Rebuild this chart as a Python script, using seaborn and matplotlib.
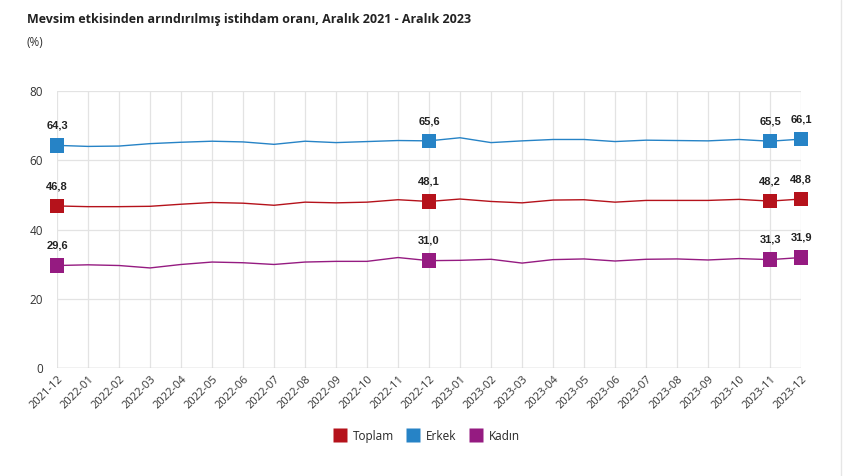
import numpy as np
import pandas as pd
import matplotlib
matplotlib.use("Agg")
import matplotlib.pyplot as plt
import seaborn as sns

# ── data ─────────────────────────────────────────────────────────────────────
months = ['2021-12', '2022-01', '2022-02', '2022-03', '2022-04', '2022-05', '2022-06',
          '2022-07', '2022-08', '2022-09', '2022-10', '2022-11', '2022-12',
          '2023-01', '2023-02', '2023-03', '2023-04', '2023-05', '2023-06',
          '2023-07', '2023-08', '2023-09', '2023-10', '2023-11', '2023-12']

toplam = [46.8, 46.6, 46.6, 46.7, 47.3, 47.8, 47.6, 47.0, 47.9, 47.7, 47.9, 48.6, 48.1,
          48.8, 48.1, 47.7, 48.5, 48.6, 47.9, 48.4, 48.4, 48.4, 48.7, 48.2, 48.8]
erkek = [64.3, 64.0, 64.1, 64.8, 65.2, 65.5, 65.3, 64.6, 65.5, 65.1, 65.4, 65.7, 65.6,
         66.5, 65.1, 65.6, 66.0, 66.0, 65.4, 65.8, 65.7, 65.6, 66.0, 65.5, 66.1]
kadin = [29.6, 29.8, 29.6, 28.9, 29.9, 30.6, 30.4, 29.9, 30.6, 30.8, 30.8, 31.9, 31.0,
         31.1, 31.4, 30.3, 31.3, 31.5, 30.9, 31.4, 31.5, 31.2, 31.6, 31.3, 31.9]

series_names = ['Toplam', 'Erkek', 'Kadın']
highlight_idx = [0, 12, 23, 24]     # months that get a marker + label

COLORS = {'Toplam': '#b5121b', 'Erkek': '#2683c6', 'Kadın': '#951b81'}

df = pd.DataFrame({
    'x': np.tile(np.arange(len(months)), 3),
    'value': toplam + erkek + kadin,
    'seri': np.repeat(series_names, len(months)),
})
marks = df[df['x'].isin(highlight_idx)]

# ── plot ─────────────────────────────────────────────────────────────────────
sns.set_style('white')
plt.rcParams['font.family'] = ['Open Sans', 'DejaVu Sans']

fig = plt.figure(figsize=(8.56, 4.76), dpi=100)
ax = fig.add_axes([0.0666, 0.2269, 0.8692, 0.5819])

sns.lineplot(data=df, x='x', y='value', hue='seri', palette=COLORS,
             linewidth=1.0, legend=False, ax=ax, zorder=3)
sns.scatterplot(data=marks, x='x', y='value', hue='seri', palette=COLORS,
                marker='s', s=110, edgecolor='none', legend=False,
                ax=ax, zorder=4, clip_on=False)

for _, row in marks.iterrows():
    ax.annotate(f"{row['value']:.1f}".replace('.', ','), (row['x'], row['value']),
                xytext=(0, 12), textcoords='offset points', ha='center',
                fontsize=8, fontweight='bold', color='#222222',
                family=['Liberation Sans', 'DejaVu Sans'])

ax.set_xlim(0, len(months) - 1)
ax.set_ylim(0, 80)
ax.set_yticks([0, 20, 40, 60, 80])
ax.set_xticks(np.arange(len(months)))
ax.set_xticklabels(months, rotation=45, ha='right', rotation_mode='anchor',
                   fontsize=8, color='#333333')
ax.tick_params(axis='y', labelsize=8.5, labelcolor='#333333', pad=10, length=0)
ax.tick_params(axis='x', pad=4, length=0)
ax.grid(True, color='#e3e3e3', linewidth=0.9)
ax.set_axisbelow(True)
for s in ax.spines.values():
    s.set_visible(False)
ax.axhline(0, color='#cccccc', linewidth=1.0, zorder=1)
ax.set_xlabel('')
ax.set_ylabel('')

fig.text(0.0315, 0.958, 'Mevsim etkisinden arındırılmış istihdam oranı, Aralık 2021 - Aralık 2023',
         fontsize=9, fontweight='bold', color='#222222', va='center')
fig.text(0.0315, 0.91, '(%)', fontsize=8.5, color='#333333', va='center')

handles = [plt.Line2D([], [], marker='s', linestyle='none', markersize=10,
                      markerfacecolor=COLORS[n], markeredgecolor='none') for n in series_names]
fig.legend(handles, series_names, loc='center', bbox_to_anchor=(0.498, 0.084), ncol=3,
           frameon=False, fontsize=8.5, handletextpad=0.5, columnspacing=1.0,
           handlelength=1.2)

# page border on the right
fig.add_artist(plt.Line2D([0.982, 0.982], [0, 1], color='#e6e6e6', linewidth=1.0))

fig.savefig('out.png', dpi=100)
